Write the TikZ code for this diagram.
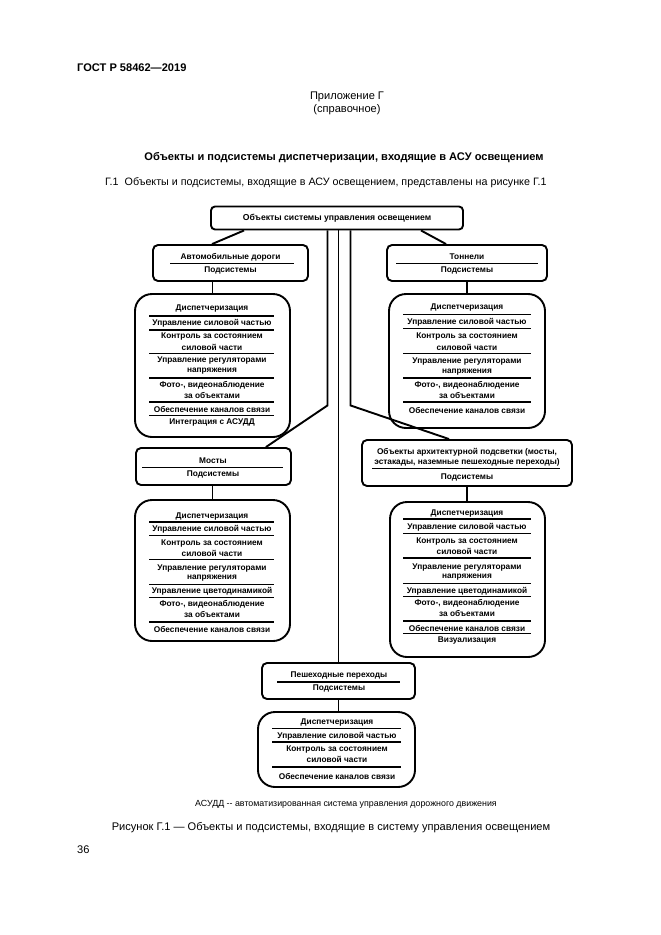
\documentclass[tikz,border=0pt]{standalone}
\usepackage{fontspec}
\setmainfont{Liberation Sans}
\usetikzlibrary{calc,backgrounds}
\newdimen\pxu \pxu=0.9034pt
\begin{document}
\begin{tikzpicture}[x=\pxu, y=-\pxu,
  lw/.style={line width=1.9\pxu},
  dt/.style={font=\fontsize{7.5}{8}\selectfont\bfseries, inner sep=0},
  sub/.style={draw, lw, fill=white, rounded corners=5\pxu, inner sep=0},
  disp/.style={draw, lw, fill=white, rounded corners=17\pxu, inner sep=0},
  sepl/.style={lw},
  conn/.style={lw},
  comb/.style={line width=1.5\pxu},
  ptxt/.style={font=\fontsize{10}{12}\selectfont, inner sep=0}
]
\fill[white] (0,0) rectangle (661,935);
\useasboundingbox (0,0) rectangle (661,935);

% page texts
\node[ptxt, font=\fontsize{10}{12}\selectfont\bfseries, anchor=west] (hdr) at (77,68) {ГОСТ Р 58462—2019};
\node[ptxt] (app) at (347,97) {Приложение Г};
\node[ptxt] (appb) at (347,110) {(справочное)};
\node[ptxt, font=\fontsize{10}{12}\selectfont\bfseries] (ttl) at (344,158) {Объекты и подсистемы диспетчеризации, входящие в АСУ освещением};
\node[ptxt, anchor=west, font=\fontsize{9.7}{12}\selectfont] (intro) at (105,183) {Г.1\ \ Объекты и подсистемы, входящие в АСУ освещением, представлены на рисунке Г.1};

% top box
\node[sub, rounded corners=4\pxu, minimum width=252\pxu, minimum height=23\pxu, font=\fontsize{7.8}{9}\selectfont\bfseries] (top) at (337,218) {Объекты системы управления освещением};

% Avto
\node[sub, minimum width=155\pxu, minimum height=36\pxu] (avto) at (230.5,263) {};
\node[dt] at (230.5,257) {Автомобильные дороги};
\draw[sepl] (170,263.5) -- (294,263.5);
\node[dt] at (230.5,270) {Подсистемы};

% Tunnels
\node[sub, minimum width=160\pxu, minimum height=36\pxu] (tun) at (467,263) {};
\node[dt] at (467,257) {Тоннели};
\draw[sepl] (396,263.5) -- (538,263.5);
\node[dt] at (467,270) {Подсистемы};

% Left dispatch (roads)
\node[disp, minimum width=155\pxu, minimum height=143\pxu] (ld) at (212.5,365.5) {};
\node[dt] at (212,309) {Диспетчеризация};
\draw[sepl] (149,316) -- (274,316);
\node[dt] at (212,323) {Управление силовой частью};
\draw[sepl] (149,330) -- (274,330);
\node[dt] at (212,337) {Контроль за состоянием};
\node[dt] at (212,347) {силовой части};
\draw[sepl] (149,353.5) -- (274,353.5);
\node[dt] at (212,361) {Управление регуляторами};
\node[dt] at (212,371.5) {напряжения};
\draw[sepl] (149,378) -- (274,378);
\node[dt] at (212,385) {Фото-, видеонаблюдение};
\node[dt] at (212,395.5) {за объектами};
\draw[sepl] (149,402) -- (274,402);
\node[dt] at (212,409) {Обеспечение каналов связи};
\draw[sepl] (149,415.5) -- (274,415.5);
\node[dt] at (212,422) {Интеграция с АСУДД};

% Right dispatch (tunnels)
\node[disp, minimum width=156\pxu, minimum height=134\pxu] (rd) at (467,361) {};
\node[dt] at (467,308) {Диспетчеризация};
\draw[sepl] (403,314.5) -- (531,314.5);
\node[dt] at (467,322) {Управление силовой частью};
\draw[sepl] (403,328.5) -- (531,328.5);
\node[dt] at (467,337) {Контроль за состоянием};
\node[dt] at (467,347) {силовой части};
\draw[sepl] (403,353.5) -- (531,353.5);
\node[dt] at (467,362) {Управление регуляторами};
\node[dt] at (467,372) {напряжения};
\draw[sepl] (403,378) -- (531,378);
\node[dt] at (467,385) {Фото-, видеонаблюдение};
\node[dt] at (467,395.5) {за объектами};
\draw[sepl] (403,402) -- (531,402);
\node[dt] at (467,410) {Обеспечение каналов связи};

% Bridges
\node[sub, minimum width=155\pxu, minimum height=37\pxu] (mo) at (213.5,466.5) {};
\node[dt] at (213,461) {Мосты};
\draw[sepl] (142,467.5) -- (283,467.5);
\node[dt] at (213,474) {Подсистемы};

\node[disp, minimum width=155\pxu, minimum height=141\pxu] (md) at (212.5,570.5) {};
\node[dt] at (212,516) {Диспетчеризация};
\draw[sepl] (149,522) -- (274,522);
\node[dt] at (212,529) {Управление силовой частью};
\draw[sepl] (149,535.5) -- (274,535.5);
\node[dt] at (212,543) {Контроль за состоянием};
\node[dt] at (212,553) {силовой части};
\draw[sepl] (149,559.5) -- (274,559.5);
\node[dt] at (212,568) {Управление регуляторами};
\node[dt] at (212,578) {напряжения};
\draw[sepl] (149,584.5) -- (274,584.5);
\node[dt] at (212,591) {Управление цветодинамикой};
\draw[sepl] (149,597.5) -- (274,597.5);
\node[dt] at (212,604) {Фото-, видеонаблюдение};
\node[dt] at (212,614.5) {за объектами};
\draw[sepl] (149,622) -- (274,622);
\node[dt] at (212,629) {Обеспечение каналов связи};

% Architectural lighting
\node[sub, minimum width=210\pxu, minimum height=46\pxu] (ar) at (467,463) {};
\node[dt] at (467,452) {Объекты архитектурной подсветки (мосты,};
\node[dt] at (467,462) {эстакады, наземные пешеходные переходы)};
\draw[sepl] (372,468.5) -- (560,468.5);
\node[dt] at (467,477) {Подсистемы};

\node[disp, minimum width=155\pxu, minimum height=155\pxu] (ad) at (467.5,579.5) {};
\node[dt] at (467,513) {Диспетчеризация};
\draw[sepl] (403,519) -- (531,519);
\node[dt] at (467,527) {Управление силовой частью};
\draw[sepl] (403,533.5) -- (531,533.5);
\node[dt] at (467,541) {Контроль за состоянием};
\node[dt] at (467,551.5) {силовой части};
\draw[sepl] (403,558) -- (531,558);
\node[dt] at (467,567) {Управление регуляторами};
\node[dt] at (467,577) {напряжения};
\draw[sepl] (403,583.5) -- (531,583.5);
\node[dt] at (467,591) {Управление цветодинамикой};
\draw[sepl] (403,596.5) -- (531,596.5);
\node[dt] at (467,603) {Фото-, видеонаблюдение};
\node[dt] at (467,613.5) {за объектами};
\draw[sepl] (403,621) -- (531,621);
\node[dt] at (467,628) {Обеспечение каналов связи};
\draw[sepl] (403,633.5) -- (531,633.5);
\node[dt] at (467,640) {Визуализация};

% Pedestrian crossings
\node[sub, minimum width=153\pxu, minimum height=36\pxu] (pe) at (338.5,681) {};
\node[dt] at (339,675) {Пешеходные переходы};
\draw[sepl] (277,682) -- (400,682);
\node[dt] at (339,688) {Подсистемы};

\node[disp, minimum width=157\pxu, minimum height=75\pxu] (pd) at (336.5,749.5) {};
\node[dt] at (337,722) {Диспетчеризация};
\draw[sepl] (272,728.5) -- (401,728.5);
\node[dt] at (337,736) {Управление силовой частью};
\draw[sepl] (272,742) -- (401,742);
\node[dt] at (337,749) {Контроль за состоянием};
\node[dt] at (337,759.5) {силовой части};
\draw[sepl] (272,767) -- (401,767);
\node[dt] at (337,776) {Обеспечение каналов связи};

% connectors
\draw[conn] ($(top.south west)+(34,0)$) -- ($(avto.north west)+(60,0)$);
\draw[conn] ($(top.south east)+(-43,0)$) -- ($(tun.north west)+(60,0)$);
\draw[conn] (avto.south -| ld.north) -- (ld.north);
\draw[conn] (tun.south) -- (rd.north);
\draw[conn] ($(top.south)+(-9.5,0)$) -- ++(0,175) -- ($(mo.north east)+(-26,0)$);
\draw[conn] (pe.north |- top.south) -- (pe.north);
\draw[conn] ($(top.south)+(13.5,0)$) -- ++(0,175) -- ($(ar.north west)+(88,0)$);
\draw[conn] (mo.south -| md.north) -- (md.north);
\draw[conn] (ar.south) -- (ar.south |- ad.north);
\draw[conn] (pe.south) -- (pe.south |- pd.north);

% combs (behind boxes)
\begin{scope}[on background layer]
\draw[comb] (121,300) -- (121,427);
\foreach \y in {300,320,338,358,378,397,412,427} \draw[comb] (121,\y) -- (145,\y);
\draw[comb] (553,298) -- (553,410);
\foreach \y in {298,318,338,360,385,410} \draw[comb] (553,\y) -- (535,\y);
\draw[comb] (122,505) -- (122,632);
\foreach \y in {505,528,552,575,597,618,632} \draw[comb] (122,\y) -- (145,\y);
\draw[comb] (555,510) -- (555,647);
\foreach \y in {510,530,550,570,590,610,630,647} \draw[comb] (555,\y) -- (535,\y);
\draw[comb] (423,713) -- (423,778);
\foreach \y in {713,735,757,778} \draw[comb] (423,\y) -- (405,\y);
\end{scope}

% captions
\node[ptxt, font=\fontsize{8}{9}\selectfont] (abbr) at (346,804) {АСУДД -{}- автоматизированная система управления дорожного движения};
\node[ptxt] (cap) at (331,828) {Рисунок Г.1 — Объекты и подсистемы, входящие в систему управления освещением};
\node[ptxt, anchor=west] (pg) at (77,850) {36};
\end{tikzpicture}
\end{document}
